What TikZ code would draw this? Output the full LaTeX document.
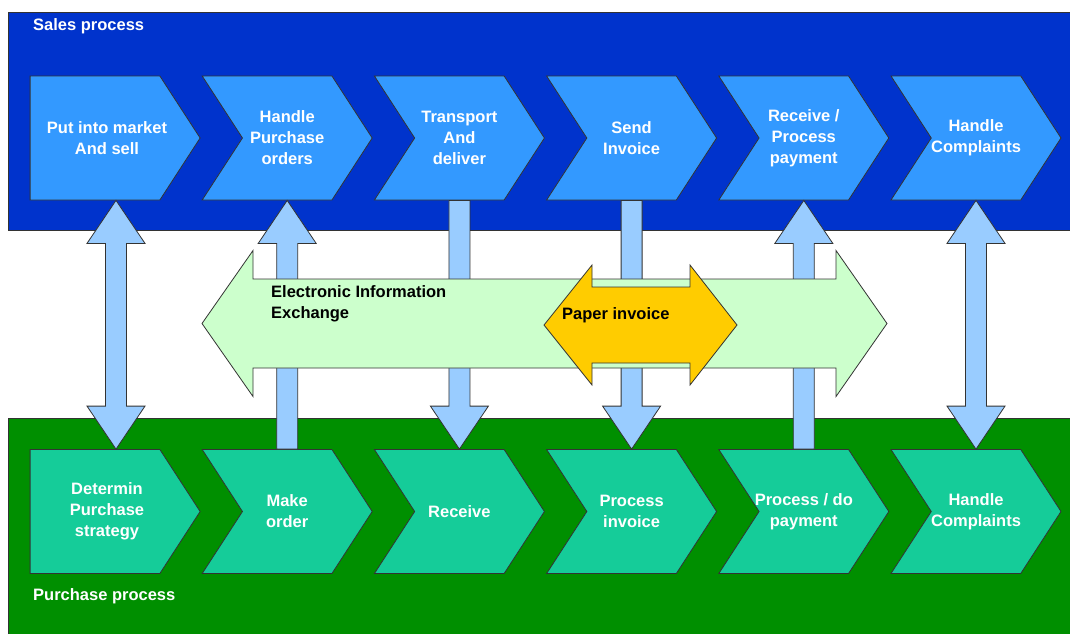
\documentclass[tikz,border=0pt]{standalone}
\usepackage{fontspec}
\setmainfont{Liberation Sans}
\usepackage{xcolor}
\usepackage{tikz}
\usetikzlibrary{shapes.symbols,calc}

\definecolor{salesband}{HTML}{0033CC}
\definecolor{salesstep}{HTML}{3399FF}
\definecolor{purchband}{HTML}{008F00}
\definecolor{purchstep}{HTML}{15CC99}
\definecolor{linkblue}{HTML}{99CCFF}
\definecolor{eiegreen}{HTML}{CCFFCC}
\definecolor{paperyellow}{HTML}{FFCC00}
\definecolor{edgegray}{HTML}{333333}

\newcommand{\stepfont}{\fontsize{16.5}{21}\selectfont\bfseries}

% block arrows between a point under a sales step (#1) and a point over a purchase step (#2)
\newcommand{\blkup}[2]{%
  \draw[link] let \p1=(#1), \p2=(#2) in
    (\x1,\y1) -- (\x1+29pt,\y1-43pt) -- (\x1+10.5pt,\y1-43pt) -- (\x1+10.5pt,\y2)
    -- (\x1-10.5pt,\y2) -- (\x1-10.5pt,\y1-43pt) -- (\x1-29pt,\y1-43pt) -- cycle;}
\newcommand{\blkdown}[2]{%
  \draw[link] let \p1=(#1), \p2=(#2) in
    (\x1-10.5pt,\y1) -- (\x1+10.5pt,\y1) -- (\x1+10.5pt,\y2+43pt) -- (\x1+29pt,\y2+43pt)
    -- (\x1,\y2) -- (\x1-29pt,\y2+43pt) -- (\x1-10.5pt,\y2+43pt) -- cycle;}
\newcommand{\blkboth}[2]{%
  \draw[link] let \p1=(#1), \p2=(#2) in
    (\x1,\y1) -- (\x1+29pt,\y1-43pt) -- (\x1+10.5pt,\y1-43pt) -- (\x1+10.5pt,\y2+43pt)
    -- (\x1+29pt,\y2+43pt) -- (\x1,\y2) -- (\x1-29pt,\y2+43pt) -- (\x1-10.5pt,\y2+43pt)
    -- (\x1-10.5pt,\y1-43pt) -- (\x1-29pt,\y1-43pt) -- cycle;}

\tikzset{
  band/.style={draw=edgegray, line width=0.8pt},
  chev/.style={signal, signal to=east, signal pointer angle=114,
    minimum width=170, minimum height=124, inner sep=0pt, inner xsep=-15pt,
    draw=edgegray, line width=0.8pt, text=white, font=\stepfont, align=center},
  salesstep/.style={chev, fill=salesstep},
  purchstep/.style={chev, fill=purchstep},
  link/.style={draw=edgegray, line width=0.8pt, fill=linkblue},
  title/.style={anchor=base west, text=white, font=\stepfont, inner sep=0pt},
  note/.style={text=black, font=\stepfont, inner sep=0pt}
}

\begin{document}
\begin{tikzpicture}[x=1pt,y=-1pt]
\useasboundingbox (0,0) rectangle (1070,633);

% Bands
\draw[band, fill=salesband] (8,12) rectangle (1080,230);
\draw[band, fill=purchband] (8,418) rectangle (1080,645);
\node[title] (salestitle) at (33,30) {Sales process};
\node[title] (purchtitle) at (33,600) {Purchase process};

% Sales steps
\node[salesstep, signal from=nowhere] (s1) at (95,138) {\hspace*{24pt}Put into market\\\hspace*{24pt}And sell};
\node[salesstep, signal from=west] (s2) at (287.2,138) {Handle\\Purchase\\orders};
\node[salesstep, signal from=west] (s3) at (459.4,138) {Transport\\And\\deliver};
\node[salesstep, signal from=west] (s4) at (631.6,138) {Send\\Invoice};
\node[salesstep, signal from=west] (s5) at (803.8,138) {Receive /\\Process\\payment};
\node[salesstep, signal from=west] (s6) at (976,138) {Handle\\Complaints};

% Purchase steps
\node[purchstep, signal from=nowhere] (p1) at (95,511.5) {\hspace*{24pt}Determin\\\hspace*{24pt}Purchase\\\hspace*{24pt}strategy};
\node[purchstep, signal from=west] (p2) at (287.2,511.5) {Make\\order};
\node[purchstep, signal from=west] (p3) at (459.4,511.5) {Receive};
\node[purchstep, signal from=west] (p4) at (631.6,511.5) {Process\\invoice};
\node[purchstep, signal from=west] (p5) at (803.8,511.5) {Process / do\\payment};
\node[purchstep, signal from=west] (p6) at (976,511.5) {Handle\\Complaints};

% Links
\blkboth{$(s1.south)+(21,0)$}{$(p1.north)+(21,0)$}
\blkup{s2.south}{p2.north}
\blkdown{s3.south}{p3.north}
\blkdown{s4.south}{p4.north}
\blkup{s5.south}{p5.north}
\blkboth{s6.south}{p6.north}

% Exchange arrows
\draw[band, fill=eiegreen] (202,323.5) -- (253,250.5) -- (253,279) -- (836,279) -- (836,250.5)
  -- (887,323.5) -- (836,396.5) -- (836,368) -- (253,368) -- (253,396.5) -- cycle;
\draw[band, fill=paperyellow] (544,325) -- (592,265) -- (592,287) -- (690,287) -- (690,265)
  -- (737,325) -- (690,385) -- (690,363) -- (592,363) -- (592,385) -- cycle;
\node[note, anchor=north west, align=left] (eie) at (271,285) {Electronic Information\\Exchange};
\node[note, anchor=base west] (paper) at (562,319) {Paper invoice};
\end{tikzpicture}
\end{document}
